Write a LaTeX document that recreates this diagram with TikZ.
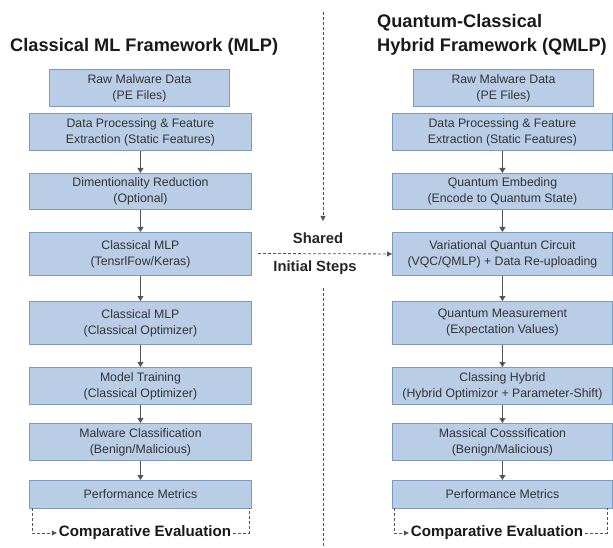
\documentclass[tikz,border=0pt]{standalone}
\usepackage{fontspec}
\setmainfont{Liberation Sans}
\usetikzlibrary{arrows.meta}
\definecolor{boxfill}{HTML}{BACDE6}
\definecolor{boxline}{HTML}{7D9AC2}
\definecolor{boxtext}{HTML}{333333}
\definecolor{arr}{HTML}{555555}
\tikzset{
  stepbox/.style={draw=boxline, fill=boxfill, line width=0.9pt, rectangle, anchor=north west,
    inner sep=0pt, align=center, text=boxtext,
    font=\fontsize{12.3}{16}\selectfont},
  flow/.style={draw=arr, line width=1pt, -{Triangle[length=5pt,width=6pt]}},
  dsh/.style={draw=arr, line width=0.8pt, dash pattern=on 3pt off 2pt},
  dsharr/.style={dsh, -{Triangle[length=5pt,width=5pt]}},
  ttl/.style={font=\fontsize{18.2}{24}\selectfont\bfseries, text=black!90, inner sep=0pt, align=left},
  midlbl/.style={font=\fontsize{14.8}{18}\selectfont\bfseries, text=black!85, inner sep=0pt},
  cmp/.style={font=\fontsize{15.1}{18}\selectfont\bfseries, text=black!90, inner sep=0pt},
}
\begin{document}
\begin{tikzpicture}[x=1pt,y=-1pt]
\useasboundingbox (0,0) rectangle (613,548);
% titles
\node[ttl, anchor=west] (tl) at (10,47) {Classical ML Framework (MLP)};
\node[ttl, anchor=west] (tr1) at (377,23) {Quantum-Classical};
\node[ttl, anchor=west] (tr2) at (377,47) {Hybrid Framework (QMLP)};
% left column
\node[stepbox, minimum width=180pt, minimum height=37pt] (L1) at (49,69) {Raw Malware Data\\(PE Files)};
\node[stepbox, minimum width=222pt, minimum height=37pt] (L2) at (29,113) {Data Processing \& Feature\\Extraction (Static Features)};
\node[stepbox, minimum width=222pt, minimum height=36pt] (L3) at (29,173) {Dimentionality Reduction\\(Optional)};
\node[stepbox, minimum width=222pt, minimum height=43pt] (L4) at (29,232) {Classical MLP\\(TensrlFow/Keras)};
\node[stepbox, minimum width=222pt, minimum height=43pt] (L5) at (29,301) {Classical MLP\\(Classical Optimizer)};
\node[stepbox, minimum width=222pt, minimum height=37pt] (L6) at (29,367) {Model Training\\(Classical Optimizer)};
\node[stepbox, minimum width=222pt, minimum height=37pt] (L7) at (29,423) {Malware Classification\\(Benign/Malicious)};
\node[stepbox, minimum width=222pt, minimum height=28pt] (L8) at (29,480) {Performance Metrics};
% right column
\node[stepbox, minimum width=180pt, minimum height=37pt] (R1) at (413,69) {Raw Malware Data\\(PE Files)};
\node[stepbox, minimum width=220pt, minimum height=37pt] (R2) at (392,113) {Data Processing \& Feature\\Extraction (Static Features)};
\node[stepbox, minimum width=220pt, minimum height=36pt] (R3) at (392,173) {Quantum Embeding\\(Encode to Quantum State)};
\node[stepbox, minimum width=220pt, minimum height=43pt] (R4) at (392,232) {Variational Quantun Circuit\\(VQC/QMLP) + Data Re-uploading};
\node[stepbox, minimum width=220pt, minimum height=43pt] (R5) at (392,301) {Quantum Measurement\\(Expectation Values)};
\node[stepbox, minimum width=220pt, minimum height=37pt] (R6) at (392,367) {Classing Hybrid\\(Hybrid Optimizor + Parameter-Shift)};
\node[stepbox, minimum width=220pt, minimum height=37pt] (R7) at (392,423) {Massical Cosssification\\(Benign/Malicious)};
\node[stepbox, minimum width=220pt, minimum height=28pt] (R8) at (392,480) {Performance Metrics};
% flow arrows
\foreach \a/\b in {L2/L3,L3/L4,L4/L5,L5/L6,L6/L7,L7/L8,R2/R3,R3/R4,R4/R5,R5/R6,R6/R7,R7/R8}
  \draw[flow] (\a.south) -- (\b.north);
% middle
\coordinate (vtop) at (323,12);
\coordinate (vend) at (323,221);
\coordinate (hstart) at (258,253.5);
\coordinate (vb1) at (323,288);
\coordinate (vb2) at (323,548);
\draw[dsharr] (vtop) -- (vend);
\draw[dsharr] (hstart) -- (R4.west);
\draw[dsh] (vb1) -- (vb2);
\node[midlbl] (sh) at (318,238) {Shared};
\node[midlbl] (is) at (315,268) {Initial Steps};
% comparative evaluation
\node[cmp] (cl) at (145,533) {Comparative Evaluation};
\node[cmp] (cr) at (497,533) {Comparative Evaluation};
\coordinate (la) at (32,508);
\coordinate (lb) at (32,533);
\coordinate (lc) at (249,533);
\coordinate (ld) at (249,508);
\coordinate (ra) at (394,508);
\coordinate (rb) at (394,533);
\coordinate (rc) at (607,533);
\coordinate (rd) at (607,508);
\draw[dsharr] (la) -- (lb) -- ([xshift=-2pt]cl.west);
\draw[dsh] ([xshift=2pt]cl.east) -- (lc) -- (ld);
\draw[dsharr] (ra) -- (rb) -- ([xshift=-2pt]cr.west);
\draw[dsh] ([xshift=2pt]cr.east) -- (rc) -- (rd);
\end{tikzpicture}
\end{document}
